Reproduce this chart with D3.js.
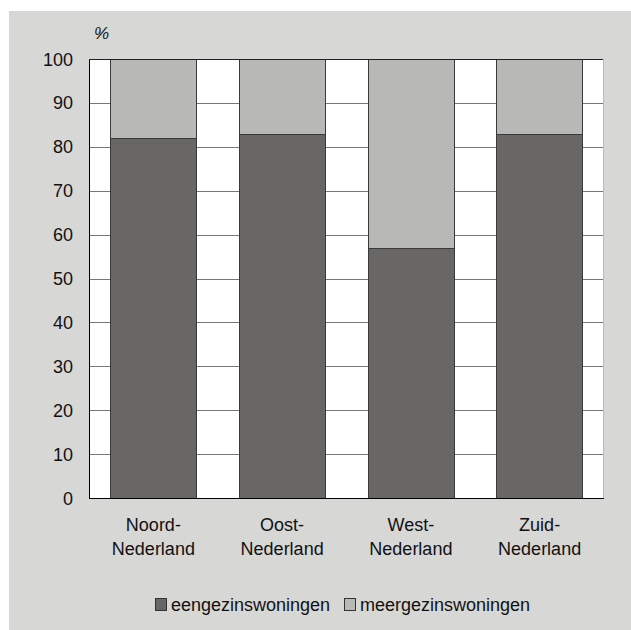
<!DOCTYPE html>
<html><head><meta charset="utf-8">
<script src="https://cdn.jsdelivr.net/npm/d3@7"></script>
<style>body{margin:0;background:#fff}svg{display:block}text{font-family:"Liberation Sans",Arial,sans-serif;fill:#111}</style>
</head><body>
<script>
const regions = [["Noord-","Nederland"],["Oost-","Nederland"],["West-","Nederland"],["Zuid-","Nederland"]];
const eengezins = [82, 83, 57, 83];
const meergezins = [18, 17, 43, 17];
const seriesNames = ["eengezinswoningen","meergezinswoningen"];
const seriesColors = ["#686765","#b8b8b6"];
const yTicks = [0,10,20,30,40,50,60,70,80,90,100];

const W=631,H=630;
const svg=d3.select("body").append("svg").attr("width",W).attr("height",H);
svg.append("rect").attr("x",9).attr("y",11).attr("width",W-9).attr("height",H-11).attr("fill","#d7d7d5");

const m={l:89,r:604,t:59,b:498};
const x=d3.scaleBand().domain(d3.range(regions.length)).range([m.l,m.r]).paddingInner(0.33).paddingOuter(0.165);
const y=d3.scaleLinear().domain([0,100]).range([m.b,m.t]);

svg.append("rect").attr("x",m.l).attr("y",m.t).attr("width",m.r-m.l).attr("height",m.b-m.t).attr("fill","#fff");
svg.append("g").selectAll("line").data(yTicks.filter(d=>d>0&&d<100)).join("line")
  .attr("x1",m.l).attr("x2",m.r).attr("y1",d=>Math.round(y(d))+0.5).attr("y2",d=>Math.round(y(d))+0.5)
  .attr("stroke","#777").attr("stroke-width",1);

const data=regions.map((r,i)=>({i,a:eengezins[i],b:meergezins[i]}));
const g=svg.append("g");
data.forEach(d=>{
  const x0=Math.round(x(d.i))+0.5, w=Math.round(x.bandwidth());
  g.append("rect").attr("x",x0).attr("y",Math.round(y(d.a+d.b))+0.5).attr("width",w)
    .attr("height",Math.round(y(d.a))-Math.round(y(d.a+d.b))).attr("fill",seriesColors[1]).attr("stroke","#3a3a3a").attr("stroke-width",1);
  g.append("rect").attr("x",x0).attr("y",Math.round(y(d.a))+0.5).attr("width",w)
    .attr("height",Math.round(y(0))-Math.round(y(d.a))).attr("fill",seriesColors[0]).attr("stroke","#3a3a3a").attr("stroke-width",1);
});

svg.append("line").attr("x1",m.l+0.5).attr("x2",m.l+0.5).attr("y1",m.t).attr("y2",m.b+1).attr("stroke","#000");
svg.append("line").attr("x1",m.l).attr("x2",m.r).attr("y1",m.b+0.5).attr("y2",m.b+0.5).attr("stroke","#000");
svg.append("line").attr("x1",m.l).attr("x2",m.r).attr("y1",m.t+0.5).attr("y2",m.t+0.5).attr("stroke","#222");
svg.append("line").attr("x1",m.r-0.5).attr("x2",m.r-0.5).attr("y1",m.t).attr("y2",m.b).attr("stroke","#bbb");

const yAxis=d3.axisLeft(y).tickValues(yTicks).tickSize(0).tickPadding(16);
const ya=svg.append("g").attr("transform",`translate(${m.l},0)`).call(yAxis);
ya.select(".domain").remove();
ya.attr("font-size",null).attr("font-family",null);
ya.selectAll("text").attr("font-size",18).attr("dy",null).attr("dominant-baseline",null)
  .attr("y",6).attr("fill","#111");

svg.append("text").attr("x",94).attr("y",39).attr("font-size",17).attr("font-style","italic").text("%");

const xl=svg.append("g");
regions.forEach((r,i)=>{
  const cx=x(i)+x.bandwidth()/2;
  r.forEach((s,j)=>xl.append("text").attr("x",cx).attr("y",531+j*24).attr("text-anchor","middle").attr("font-size",18).text(s));
});

const leg=svg.append("g");
const lx=[155,344];
seriesNames.forEach((n,i)=>{
  leg.append("rect").attr("x",lx[i]+0.5).attr("y",598.5).attr("width",11).attr("height",12).attr("fill",seriesColors[i]).attr("stroke","#333");
  leg.append("text").attr("x",lx[i]+16).attr("y",611).attr("font-size",18).text(n);
});
</script>
</body></html>
